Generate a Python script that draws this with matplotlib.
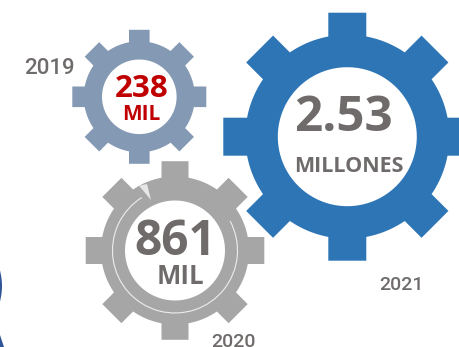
import numpy as np
import matplotlib
matplotlib.use('Agg')
import matplotlib.pyplot as plt
from matplotlib.patches import Circle, PathPatch, Polygon, Arc
from matplotlib.path import Path

WIDTH, HEIGHT = 459, 347

YEARS = ['2019', '2020', '2021']
VALUES = ['238', '861', '2.53']
UNITS = ['MIL', 'MIL', 'MILLONES']

# gear geometry, in pixels
CENTERS = [(139.3, 96.8), (175, 250.5), (347.3, 136.7)]
TOOTH_R = [67, 89.3, 124]
RING_R = [55.5, 74, 102]
HOLE_R = [37.3, 50, 69.5]
TOOTH_HALF = [10.3, 13.5, 19]
COLORS = ['#8499B3', '#A6A6A6', '#2E75B6']

VALUE_COLORS = ['#C00000', '#6F6B6B', '#6F6B6B']
VALUE_SIZES = [22.5, 34.5, 35.5]
UNIT_SIZES = [15, 18.5, 15.5]
VALUE_POS = [(141.5, 85), (175, 236.5), (343, 112.5)]
UNIT_POS = [(141.5, 112), (180, 273.5), (348.5, 164)]
YEAR_POS = [(49, 66), (233.5, 339.8), (401.5, 283.5)]
YEAR_SIZES = [16, 14, 14]


def gear_path(center, tooth_r, ring_r, hole_r, half):
    cx, cy = center
    verts = []
    root = np.arcsin(half / ring_r)
    for k in range(8):
        a = k * np.pi / 4
        u = np.array([np.cos(a), np.sin(a)])
        n = np.array([-u[1], u[0]])
        # tooth outline, then the ring arc over to the next tooth
        base = ring_r * np.cos(root)
        pts = [u * base - n * half, u * tooth_r - n * half,
               u * tooth_r + n * half, u * base + n * half]
        for t in np.linspace(a + root, a + np.pi / 4 - root, 12)[1:-1]:
            pts.append(np.array([np.cos(t), np.sin(t)]) * ring_r)
        verts += [(cx + p[0], cy + p[1]) for p in pts]
    codes = [Path.MOVETO] + [Path.LINETO] * (len(verts) - 1)
    verts.append(verts[0])
    codes.append(Path.CLOSEPOLY)
    # hole runs the other way round
    ts = np.linspace(2 * np.pi, 0, 121)
    verts += [(cx + hole_r * np.cos(t), cy + hole_r * np.sin(t)) for t in ts]
    codes += [Path.MOVETO] + [Path.LINETO] * 119 + [Path.CLOSEPOLY]
    return Path(verts, codes)


fig = plt.figure(figsize=(WIDTH / 100, HEIGHT / 100), dpi=100)
ax = fig.add_axes([0, 0, 1, 1])
ax.set_xlim(0, WIDTH)
ax.set_ylim(HEIGHT, 0)
ax.axis('off')

for i in [2, 0, 1]:
    path = gear_path(CENTERS[i], TOOTH_R[i], RING_R[i], HOLE_R[i], TOOTH_HALF[i])
    ax.add_patch(PathPatch(path, facecolor=COLORS[i], edgecolor='none', zorder=i + 2))

# thin swirl on the grey gear, y axis is inverted so angles run clockwise
cx, cy = CENTERS[1]
ax.add_patch(Arc((cx, cy), 125, 125, theta1=-28, theta2=238, color='#EDEDED', lw=0.8, zorder=5))
ax.add_patch(Polygon([(139, 185.7), (147, 184), (151, 200)], closed=True, facecolor='#E6E6E6', edgecolor='none', zorder=5))

# slivers of another ring, cut off by the left edge
ax.add_patch(Circle((-58, 286), 60, facecolor='#2F5597', edgecolor='none', zorder=1))
ax.add_patch(Polygon([(0, 335), (0, 347), (4, 347)], closed=True, facecolor='#2F5597', edgecolor='none', zorder=1))

font = 'Open Sans'
for i in range(3):
    ax.text(*VALUE_POS[i], VALUES[i], color=VALUE_COLORS[i], fontsize=VALUE_SIZES[i], fontweight='bold',
            family=font, ha='center', va='center_baseline', zorder=6)
    ax.text(*UNIT_POS[i], UNITS[i], color=VALUE_COLORS[i], fontsize=UNIT_SIZES[i], fontweight='bold',
            family=font, ha='center', va='center_baseline', zorder=6)
    ax.text(*YEAR_POS[i], YEARS[i], color='#6F6B6B', fontsize=YEAR_SIZES[i], family='Roboto',
            fontweight='medium', ha='center', va='center_baseline', zorder=6)

fig.savefig('out.png', dpi=100)
